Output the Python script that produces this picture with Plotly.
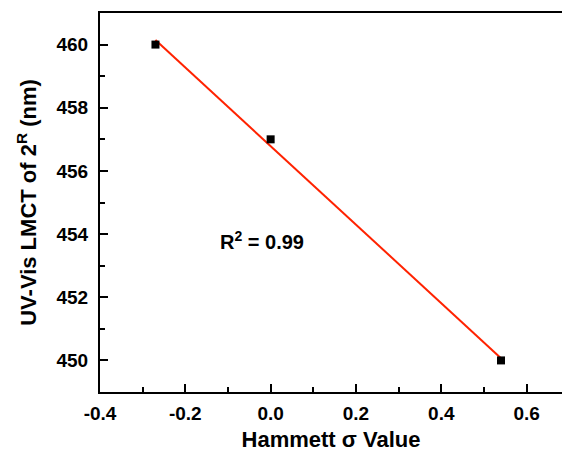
import numpy as np
import plotly.graph_objects as go

sigma = [-0.27, 0.0, 0.54]
lmct = [460.0, 457.0, 450.0]
r2_label = "R<sup>2</sup> = 0.99"
x_tickvals = [-0.4, -0.2, 0.0, 0.2, 0.4, 0.6]
x_ticktext = ["-0.4", "-0.2", "0.0", "0.2", "0.4", "0.6"]
y_tickvals = [450, 452, 454, 456, 458, 460]
y_ticktext = ["450", "452", "454", "456", "458", "460"]

slope, intercept = np.polyfit(sigma, lmct, 1)
fit_x = [min(sigma), max(sigma)]
fit_y = [slope * v + intercept for v in fit_x]

font_family = "Liberation Sans, Arial, sans-serif"

fig = go.Figure()
fig.add_trace(go.Scatter(x=fit_x, y=fit_y, mode="lines",
                         line=dict(color="#FF2200", width=2), showlegend=False))
fig.add_trace(go.Scatter(x=sigma, y=lmct, mode="markers",
                         marker=dict(symbol="square", size=8, color="black"),
                         showlegend=False))

fig.add_annotation(x=-0.02, y=453.8, text="<b>" + r2_label + "</b>", showarrow=False,
                   font=dict(family=font_family, size=20, color="black", weight="bold"))

axis_common = dict(
    showgrid=False, zeroline=False, showline=True, linecolor="black", linewidth=2,
    ticks="inside", ticklen=8, tickwidth=2, tickcolor="black", automargin=False,
    tickfont=dict(family=font_family, size=19, color="black", weight="bold"),
)

fig.update_xaxes(range=[-0.4, 0.683], tickvals=x_tickvals, mirror=True,
                 ticktext=["<b>" + t + "</b>" for t in x_ticktext], ticklabelstandoff=3,
                 minor=dict(ticks="inside", ticklen=5, tickwidth=2, tickcolor="black", dtick=0.1, tick0=-0.4),
                 title=dict(text="<b>Hammett σ Value</b>", standoff=12,
                            font=dict(family=font_family, size=22, color="black", weight="bold")),
                 **axis_common)
fig.update_yaxes(range=[449.0, 461.0], tickvals=y_tickvals, mirror=False,
                 ticktext=["<b>" + t + "</b>" for t in y_ticktext], ticklabelstandoff=6,
                 minor=dict(ticks="inside", ticklen=5, tickwidth=2, tickcolor="black", dtick=1, tick0=449),
                 title=dict(text="<b>UV-Vis LMCT of 2<sup>R</sup> (nm)</b>", standoff=14,
                            font=dict(family=font_family, size=22, color="black", weight="bold")),
                 **axis_common)

fig.update_layout(width=562, height=452, margin=dict(l=100, r=0, t=13, b=60),
                  plot_bgcolor="white", paper_bgcolor="white")

fig.write_html("out.html")
